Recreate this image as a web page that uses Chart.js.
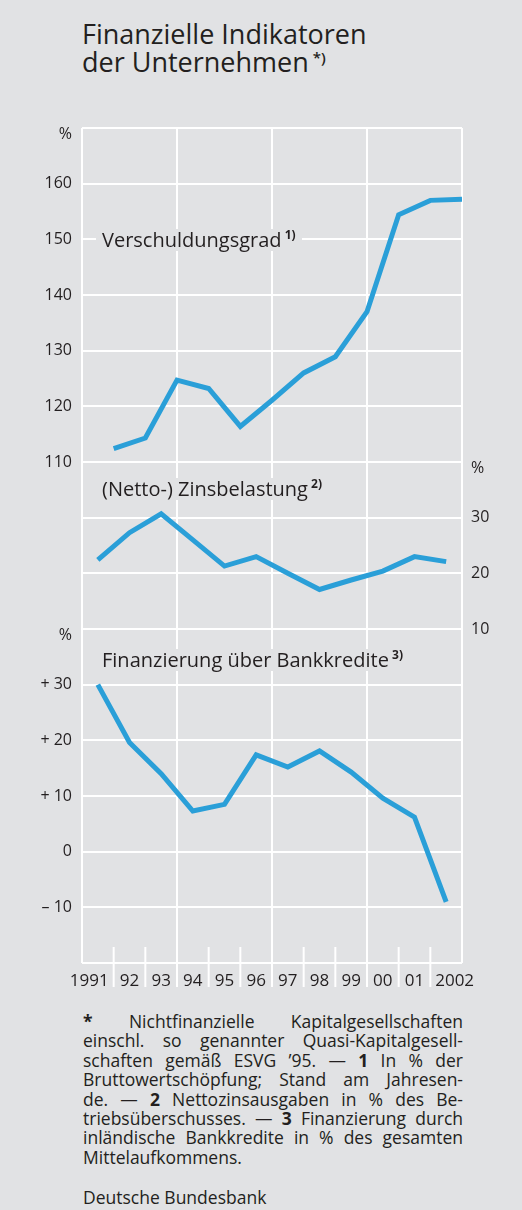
<!DOCTYPE html>
<html lang="de">
<head>
<meta charset="utf-8">
<title>Finanzielle Indikatoren der Unternehmen</title>
<script src="https://cdn.jsdelivr.net/npm/chart.js@4.4.0/dist/chart.umd.min.js"></script>
<style>
  body { margin: 0; background: #e1e2e4; font-family: 'Open Sans', sans-serif; color: #231f20; }
  #page { position: relative; width: 522px; height: 1210px; overflow: hidden; }
  #title { position: absolute; left: 82px; top: 20px; font-size: 27px; line-height: 28px; }
  #title sup { font-size: 15px; font-weight: 600; vertical-align: 9px; line-height: 0; }
  .lbl sup { font-size: 12px; font-weight: 700; vertical-align: 8px; line-height: 0; }
  .chartBox { position: absolute; left: 0; top: 0; width: 522px; height: 1000px; }
  .lbl { position: absolute; background: #e1e2e4; font-size: 20px; line-height: 22px; padding: 0 6px; white-space: nowrap; }
  #notes { position: absolute; left: 83px; top: 1012px; width: 380px; font-size: 17.5px; line-height: 19.4px; }
  #notes div { white-space: nowrap; }
  #notes .j { text-align: justify; text-align-last: justify; }
  #source { position: absolute; left: 83px; top: 1188px; font-size: 17.5px; line-height: 19.4px; }
</style>
</head>
<body>
<div id="page">
  <div id="title">Finanzielle Indikatoren<br>der Unternehmen<sup> *)</sup></div>
  <div class="chartBox"><canvas id="indicatorChart"></canvas></div>
  <div class="lbl" style="left:96px; top:229px;">Verschuldungsgrad<sup> 1)</sup></div>
  <div class="lbl" style="left:96px; top:478px;">(Netto-) Zinsbelastung<sup> 2)</sup></div>
  <div class="lbl" style="left:96px; top:649px;">Finanzierung über Bankkredite<sup> 3)</sup></div>
  <div id="notes">
    <div class="j"><b>*</b> Nichtfinanzielle Kapitalgesellschaften</div>
    <div class="j">einschl. so genannter Quasi-Kapitalgesell-</div>
    <div class="j">schaften gemäß ESVG ’95. — <b>1</b> In % der</div>
    <div class="j">Bruttowertschöpfung; Stand am Jahresen-</div>
    <div class="j">de. — <b>2</b> Nettozinsausgaben in % des Be-</div>
    <div class="j">triebsüberschusses. — <b>3</b> Finanzierung durch</div>
    <div class="j">inländische Bankkredite in % des gesamten</div>
    <div>Mittelaufkommens.</div>
  </div>
  <div id="source">Deutsche Bundesbank</div>
</div>

<script>
// Years 1991-2002
const years = [1991, 1992, 1993, 1994, 1995, 1996, 1997, 1998, 1999, 2000, 2001, 2002];
const yearLabels = ['1991\u2003', '92', '93', '94', '95', '96', '97', '98', '99', '00', '01', '\u20032002'];
const majorYears = [1991, 1994, 1997, 2000, 2003];

// Verschuldungsgrad (year-end stock, % of gross value added)
const debtRatio = [112.4, 114.3, 124.7, 123.2, 116.4, 121.1, 126.0, 128.9, 137.0, 154.4, 157.0, 157.2];
// (Netto-) Zinsbelastung (% of operating surplus)
const interestBurden = [22.4, 27.3, 30.7, 26.0, 21.3, 23.0, 20.0, 17.1, 18.8, 20.4, 23.0, 22.1];
// Finanzierung über Bankkredite (% of total sources of funds)
const bankFinancing = [30.0, 19.6, 14.0, 7.3, 8.5, 17.4, 15.2, 18.1, 14.3, 9.6, 6.2, -9.0];

// tick labels per panel
const debtTicks = [110, 120, 130, 140, 150, 160];
const interestTicks = [10, 20, 30];
const bankTicks = [-10, 0, 10, 20, 30];

// axis ranges, all three share one grid of 15 rows
const debtRange = { min: 20, max: 170 };
const interestRange = { min: -50, max: 100 };
const bankRange = { min: -20, max: 130 };

const lineColor = '#2a9fd8';
const textColor = '#231f20';
const tickFont = { family: "'Open Sans', sans-serif", size: 16, lineHeight: 0.8 };

// value on the bank axis that sits on the same grid line as v on the debt axis
function toBankValue(v) {
    return bankRange.min + (v - debtRange.min) * (bankRange.max - bankRange.min) / (debtRange.max - debtRange.min);
}

function bankLabel(b) {
    if (b > 0) return '+ ' + b;
    if (b < 0) return '\u2013 ' + Math.abs(b);
    return '0';
}

// short white year marks at the foot of the grid
const yearTicksPlugin = {
    id: 'yearTicks',
    beforeDatasetsDraw(chart) {
        const { ctx, chartArea, scales } = chart;
        ctx.save();
        ctx.strokeStyle = '#ffffff';
        ctx.lineWidth = 2;
        years.slice(1).forEach(yr => {
            const px = scales.x.getPixelForValue(yr);
            ctx.beginPath();
            ctx.moveTo(px, chartArea.bottom - 16);
            ctx.lineTo(px, chartArea.bottom + 24);
            ctx.stroke();
        });
        ctx.restore();
    }
};

function renderChart() {
    const ctx = document.getElementById('indicatorChart').getContext('2d');
    const lineStyle = {
        borderColor: lineColor,
        borderWidth: 5,
        borderJoinStyle: 'miter',
        pointRadius: 0,
        tension: 0,
        fill: false
    };

    new Chart(ctx, {
        type: 'line',
        data: {
            datasets: [
                // stock at year end -> plotted at the year boundary
                { ...lineStyle, label: 'Verschuldungsgrad', yAxisID: 'y',
                  data: years.map((yr, i) => ({ x: yr + 1, y: debtRatio[i] })) },
                // annual flows -> plotted mid-year
                { ...lineStyle, label: '(Netto-) Zinsbelastung', yAxisID: 'yInt',
                  data: years.map((yr, i) => ({ x: yr + 0.5, y: interestBurden[i] })) },
                { ...lineStyle, label: 'Finanzierung über Bankkredite', yAxisID: 'yBank',
                  data: years.map((yr, i) => ({ x: yr + 0.5, y: bankFinancing[i] })) }
            ]
        },
        options: {
            responsive: true,
            maintainAspectRatio: false,
            animation: false,
            layout: { padding: { top: 128, left: 0, right: 0, bottom: 0 } },
            plugins: {
                legend: { display: false },
                tooltip: { enabled: false }
            },
            scales: {
                x: {
                    type: 'linear',
                    min: 1991,
                    max: 2003,
                    afterBuildTicks: s => { s.ticks = [...years, 2003].map(v => ({ value: v })); },
                    afterFit: s => { s.height = 37; },
                    border: { display: false },
                    grid: {
                        color: c => majorYears.includes(c.tick.value) ? '#ffffff' : 'rgba(0,0,0,0)',
                        lineWidth: 2,
                        drawTicks: false
                    },
                    ticks: {
                        autoSkip: false,
                        maxRotation: 0,
                        labelOffset: 15.8,
                        padding: 8,
                        color: textColor,
                        font: { family: "'Open Sans', sans-serif", size: 17 },
                        callback: (v, i) => yearLabels[i] ?? ''
                    }
                },
                // left axis: grid for all panels, labels of the debt and bank panels
                y: {
                    position: 'left',
                    min: debtRange.min,
                    max: debtRange.max,
                    afterBuildTicks: s => {
                        const t = [];
                        for (let v = debtRange.min; v <= debtRange.max; v += 10) t.push({ value: v });
                        s.ticks = t;
                    },
                    afterFit: s => { s.width = 82; },
                    border: { display: false },
                    grid: { color: '#ffffff', lineWidth: 2, drawTicks: false },
                    ticks: {
                        padding: 10,
                        color: textColor,
                        font: tickFont,
                        callback: v => {
                            if (v === debtRange.max) return ['', '%'];
                            if (debtTicks.includes(v)) return String(v);
                            const b = Math.round(toBankValue(v));
                            if (b === 40) return ['', '%'];
                            if (bankTicks.includes(b)) return bankLabel(b);
                            return '';
                        }
                    }
                },
                yBank: {
                    display: false,
                    min: bankRange.min,
                    max: bankRange.max
                },
                yInt: {
                    position: 'right',
                    min: interestRange.min,
                    max: interestRange.max,
                    afterBuildTicks: s => { s.ticks = [...interestTicks, 40].map(v => ({ value: v })); },
                    afterFit: s => { s.width = 60; },
                    border: { display: false },
                    grid: { display: false, drawTicks: false },
                    ticks: {
                        padding: 9,
                        color: textColor,
                        font: tickFont,
                        callback: v => v === 40 ? ['', '%'] : String(v)
                    }
                }
            }
        },
        plugins: [yearTicksPlugin]
    });
}

document.addEventListener('DOMContentLoaded', renderChart);
</script>
</body>
</html>
